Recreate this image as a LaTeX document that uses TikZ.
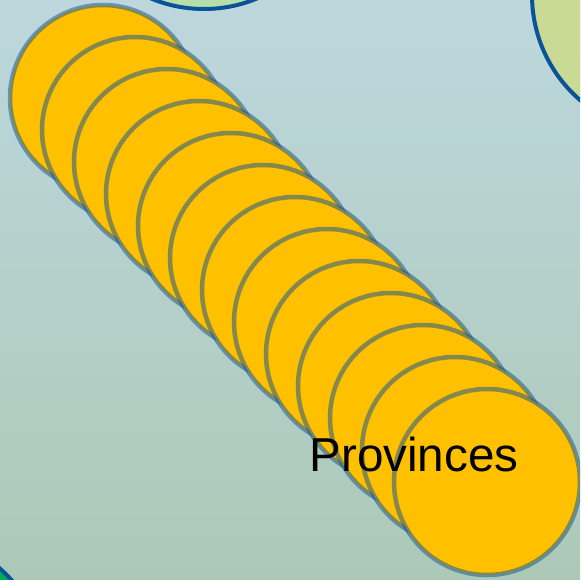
\documentclass[tikz,border=0pt]{standalone}
\usepackage{fontspec}
\setmainfont{Liberation Sans}
\usepackage{xcolor}
\usepackage{tikz}
\usetikzlibrary{positioning}

\definecolor{bgtop}{HTML}{BDD7DD}
\definecolor{bgbottom}{HTML}{ACC9B7}
\definecolor{rimblue}{HTML}{0A5299}
\definecolor{provgold}{HTML}{FFC000}
\definecolor{paleleaf}{HTML}{B5DFA8}
\definecolor{paleolive}{HTML}{C9DA95}
\definecolor{deepgreen}{HTML}{00B050}

\tikzset{
  province/.style={fill=provgold,draw=rimblue,draw opacity=0.5,line width=4.5pt},
  region/.style={draw=rimblue,line width=4pt}
}

\begin{document}
\begin{tikzpicture}[x=1pt,y=-1pt]
\useasboundingbox (0,0) rectangle (580,580);
\shade[top color=bgtop,bottom color=bgbottom] (0,0) rectangle (580,580);
\begin{scope}
\clip (0,0) rectangle (580,580);
% neighbouring regions
\draw[region,fill=paleleaf] (204,-129) circle (138);
\draw[region,fill=paleolive] (671,-5) circle (139);
\draw[region,fill=deepgreen] (-82,663) circle (125);
% stack of provinces
\foreach \k in {0,...,12}
  \draw[province] ({103+32*\k},{98+32*\k}) circle (93);
\end{scope}
\node[font=\fontsize{47.6}{57}\selectfont,anchor=base] (provlabel) at (414,471) {Provinces};
\end{tikzpicture}
\end{document}
